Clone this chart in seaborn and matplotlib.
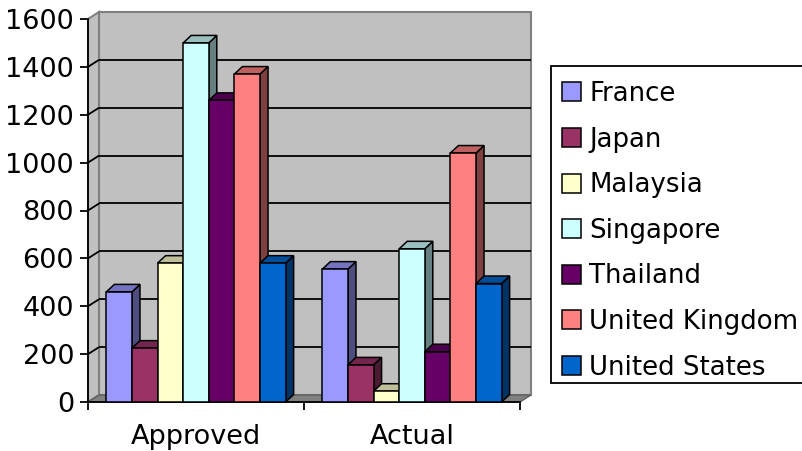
import numpy as np
import pandas as pd
import matplotlib
matplotlib.use("Agg")
import matplotlib.pyplot as plt
import seaborn as sns
from matplotlib.patches import Polygon, Patch, Rectangle
from matplotlib.colors import to_rgb

# ---- data ----
stages = ["Approved", "Actual"]
countries = ["France", "Japan", "Malaysia", "Singapore", "Thailand",
             "United Kingdom", "United States"]
approved = [460, 225, 580, 1500, 1260, 1370, 580]
actual = [555, 155, 45, 640, 210, 1040, 495]
colors = ["#9999FF", "#993366", "#FFFFCC", "#CCFFFF", "#660066",
          "#FF8080", "#0066CC"]
y_ticks = [0, 200, 400, 600, 800, 1000, 1200, 1400, 1600]

sns.set_theme(style="white")
plt.rcParams["font.family"] = ["DejaVu Sans"]
plt.rcParams["text.color"] = "black"

W, H = 803, 451
fig = plt.figure(figsize=(W / 100, H / 100), dpi=100)
fig.patch.set_facecolor("white")
ax = fig.add_axes([88 / W, (H - 402) / H, (520 - 88) / W, (402 - 19) / H])

df = pd.DataFrame({
    "stage": np.repeat(stages, len(countries)),
    "country": countries * len(stages),
    "value": approved + actual,
})

sns.barplot(data=df, x="stage", y="value", hue="country", order=stages,
            hue_order=countries, palette=colors, saturation=1, width=0.83,
            edgecolor="black", linewidth=1.1, errorbar=None, legend=False,
            ax=ax)

ax.set_xlim(-0.5, 1.5)
ax.set_ylim(0, 1600)
ax.set_facecolor("none")


def depth(dx, dy):
    """Convert a pixel offset into data units."""
    inv = ax.transData.inverted()
    x0, y0 = ax.transData.transform((0, 0))
    x1, y1 = inv.transform((x0 + dx, y0 + dy))
    return x1, y1


x_lo, x_hi = ax.get_xlim()
y_hi = ax.get_ylim()[1]

# ---- walls and floor ----
wdx, wdy = depth(11, 7)
wall_gray = "#C0C0C0"
edge_gray = "#808080"

back = Polygon([(x_lo + wdx, wdy), (x_hi + wdx, wdy), (x_hi + wdx, y_hi + wdy),
                (x_lo + wdx, y_hi + wdy)], closed=True, facecolor=wall_gray,
               edgecolor=edge_gray, linewidth=1.5, zorder=0.5, clip_on=False)
side = Polygon([(x_lo, 0), (x_lo, y_hi), (x_lo + wdx, y_hi + wdy),
                (x_lo + wdx, wdy)], closed=True, facecolor=wall_gray,
               edgecolor=edge_gray, linewidth=1.5, zorder=0.55, clip_on=False)
floor = Polygon([(x_lo, 0), (x_hi, 0), (x_hi + wdx, wdy), (x_lo + wdx, wdy)],
                closed=True, facecolor=edge_gray, edgecolor="#606060",
                linewidth=1.0, zorder=0.6, clip_on=False)
for p in (back, side, floor):
    ax.add_patch(p)

for yv in y_ticks[1:-1]:
    ax.plot([x_lo + wdx, x_hi + wdx], [yv + wdy, yv + wdy], color="black",
            lw=1.3, zorder=0.7, clip_on=False, solid_capstyle="butt")
    ax.plot([x_lo, x_lo + wdx], [yv, yv + wdy], color="black",
            lw=1.3, zorder=0.7, clip_on=False, solid_capstyle="butt")

# ---- 3D faces on each bar ----
bdx, bdy = depth(8, 7.5)
for i, cont in enumerate(ax.containers):
    base = np.array(to_rgb(colors[i]))
    top_c = base * 0.75
    side_c = base * 0.5
    for bar in cont:
        x0 = bar.get_x()
        x1 = x0 + bar.get_width()
        h = bar.get_height()
        bar.set_zorder(3 + i * 0.1 + 0.05)
        bar.set_clip_on(False)
        top = Polygon([(x0, h), (x1, h), (x1 + bdx, h + bdy), (x0 + bdx, h + bdy)],
                      closed=True, facecolor=top_c, edgecolor="black",
                      linewidth=1.1, zorder=3 + i * 0.1, clip_on=False)
        rside = Polygon([(x1, 0), (x1 + bdx, bdy), (x1 + bdx, h + bdy), (x1, h)],
                        closed=True, facecolor=side_c, edgecolor="black",
                        linewidth=1.1, zorder=3 + i * 0.1, clip_on=False)
        ax.add_patch(rside)
        ax.add_patch(top)

# ---- axes ----
for s in ("top", "right"):
    ax.spines[s].set_visible(False)
for s in ("left", "bottom"):
    ax.spines[s].set_color("black")
    ax.spines[s].set_linewidth(1.3)
    ax.spines[s].set_zorder(2.5)

ax.set_yticks(y_ticks)
ax.set_yticklabels([str(v) for v in y_ticks])
ax.tick_params(axis="y", left=True, direction="out", length=6, width=1.3,
               color="black", pad=4, labelsize=19.5, labelcolor="black")

ax.set_xticks([x_lo, 0.5, x_hi])
ax.set_xticklabels([])
ax.set_xticks([0, 1], minor=True)
ax.set_xticklabels(stages, minor=True)
ax.tick_params(axis="x", which="major", bottom=True, direction="out",
               length=6, width=1.3, color="black")
ax.tick_params(axis="x", which="minor", bottom=True, length=0, pad=16,
               labelsize=19.5, labelcolor="black")
ax.set_xlabel("")
ax.set_ylabel("")

# ---- legend (box drawn separately, runs off the right edge) ----
fig.add_artist(Rectangle((551 / W, 1 - 383 / H), 270 / W, (383 - 66) / H,
                         transform=fig.transFigure, facecolor="white",
                         edgecolor="black", linewidth=1.3, zorder=1))
handles = [Patch(facecolor=c, edgecolor="black", linewidth=1.1) for c in colors]
leg = fig.legend(handles, countries, loc="upper left",
                 bbox_to_anchor=(562 / W, 1 - 81 / H), frameon=False,
                 fontsize=18.7, handlelength=0.75, handleheight=0.75,
                 handletextpad=0.3, labelspacing=0.755, borderpad=0,
                 borderaxespad=0, labelcolor="black")
leg.set_zorder(2)

fig.savefig("out.png", dpi=100, facecolor="white")
